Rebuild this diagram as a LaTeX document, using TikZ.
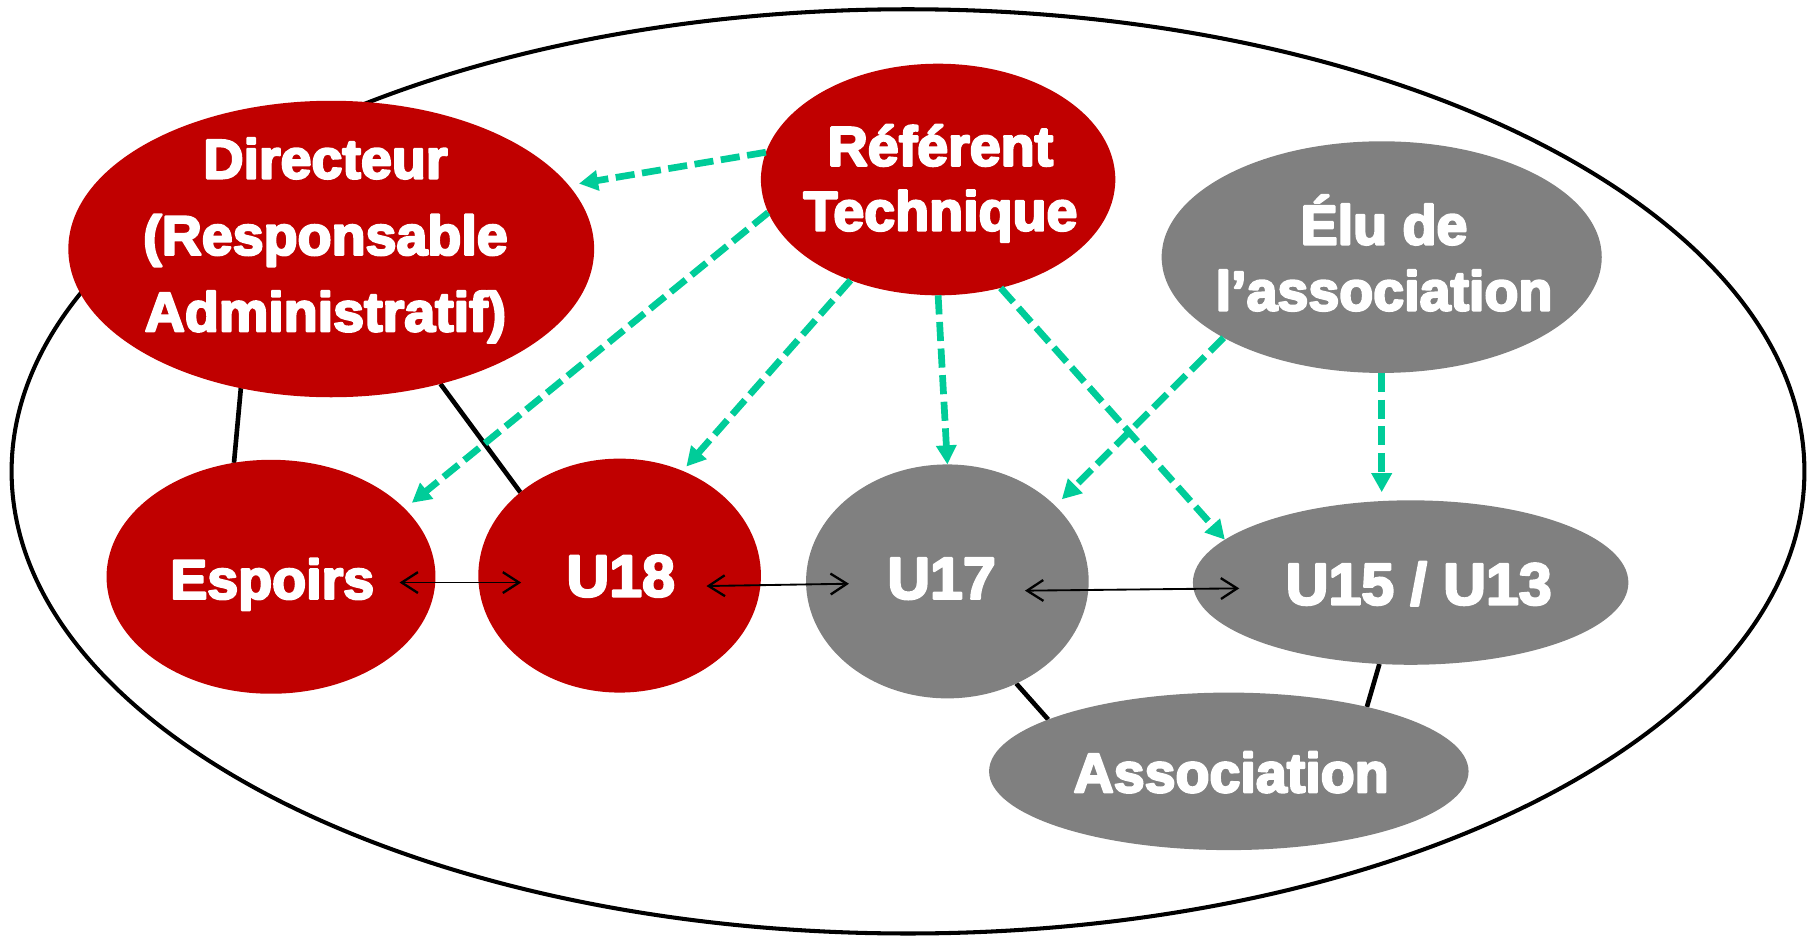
\documentclass[tikz,border=0pt]{standalone}
\usepackage{fontspec}
\newfontfamily\lbl{Liberation Sans}
\newcommand\heavytext[1]{\special{pdf:literal direct 2 Tr 2 w 1 1 1 RG 1 j}#1\special{pdf:literal direct 0 Tr}}
\usetikzlibrary{shapes.geometric,arrows.meta,backgrounds}
\definecolor{redc}{HTML}{C00000}
\definecolor{grayc}{HTML}{808080}
\definecolor{greenc}{HTML}{00CC99}
\begin{document}
\begin{tikzpicture}[x=1pt,y=-1pt,
  blob/.style={ellipse, inner sep=0pt, outer sep=0pt},
  redblob/.style={blob, fill=redc},
  grayblob/.style={blob, fill=grayc},
  txt/.style={text=white, font=\lbl\bfseries\fontsize{48}{56}\selectfont, anchor=base, inner sep=0pt},
  bigtxt/.style={txt, font=\lbl\bfseries\fontsize{51}{56}\selectfont},
  link/.style={line width=4pt, black},
  flow/.style={line width=5.8pt, greenc, dash pattern=on 16.5pt off 6.5pt, -{Triangle[length=16.5pt,width=17pt]}},
  peer/.style={line width=1.6pt, black, {Straight Barb[length=14pt,width=18pt,line width=2pt]}-{Straight Barb[length=14pt,width=18pt,line width=2pt]}}]

\useasboundingbox (0,0) rectangle (1568,808);
\node[blob, draw, line width=3.5pt, minimum width=1548pt, minimum height=798pt] (outer) at (784,407) {};

\node[redblob, minimum width=454pt, minimum height=256pt] (dir) at (286,215) {};
\node[redblob, minimum width=306pt, minimum height=200pt] (ref) at (810,155) {};
\node[grayblob, minimum width=380pt, minimum height=200pt] (elu) at (1193,222) {};
\node[redblob, minimum width=284pt, minimum height=202pt] (esp) at (234,498) {};
\node[redblob, minimum width=244pt, minimum height=202pt] (u18) at (535,497) {};
\node[grayblob, minimum width=244pt, minimum height=202pt] (u17) at (818,502) {};
\node[grayblob, minimum width=376pt, minimum height=142pt] (u15) at (1218,503) {};
\node[grayblob, minimum width=414pt, minimum height=136pt] (asso) at (1061,666) {};

\begin{scope}[on background layer]
\draw[link] (dir.-123) -- (esp.108);
\draw[link] (dir.-51) -- (u18.140);
\draw[link] (u17.-56) -- (asso.164);
\draw[link] (u15.-111) -- (asso.25);
\end{scope}

\draw[flow, shorten >=9pt] (ref.171) -- (dir.15);
\draw[flow, shorten >=8pt] (ref.191) -- (esp.27);
\draw[flow, shorten >=5pt] (ref.229) -- (u18.59);
\draw[flow] (ref.south) -- (u17.north);
\draw[flow] (ref.-60) -- (u15.167);
\draw[flow, shorten >=8pt] (elu.207) -- (u17.35);
\draw[flow, shorten >=7pt] (elu.south) -- (elu.south |- u15.north);

\draw[peer] ([xshift=-31pt,yshift=-5pt]esp.east) -- ([xshift=37pt,yshift=-6pt]u18.west);
\draw[peer] ([xshift=-47pt,yshift=-9pt]u18.east) -- ([xshift=37pt,yshift=-2pt]u17.west);
\draw[peer] ([xshift=-55pt,yshift=-8pt]u17.east) -- ([xshift=40pt,yshift=-5pt]u15.west);

\node[txt] (dirA) at (281,154) {\heavytext{Directeur}};
\node[txt] (dirB) at (281,220) {\heavytext{(Responsable}};
\node[txt] (dirC) at (281,286) {\heavytext{Administratif)}};
\node[txt] (refA) at (812,143) {\heavytext{Référent}};
\node[txt] (refB) at (812,199) {\heavytext{Technique}};
\node[txt] (eluA) at (1195,211) {\heavytext{Élu de}};
\node[txt] (eluB) at (1195,268) {\heavytext{l’association}};
\node[txt] (espT) at (235,517) {\heavytext{Espoirs}};
\node[bigtxt] (u18T) at (536,515) {\heavytext{U18}};
\node[bigtxt] (u17T) at (813,517) {\heavytext{U17}};
\node[bigtxt] (u15T) at (1225,522) {\heavytext{U15 / U13}};
\node[txt] (assoT) at (1063,684) {\heavytext{Association}};
\end{tikzpicture}
\end{document}
